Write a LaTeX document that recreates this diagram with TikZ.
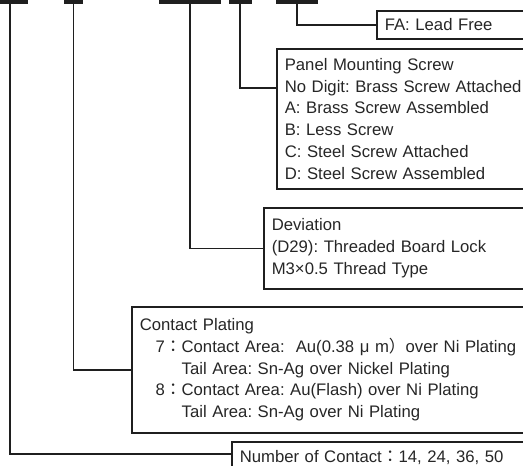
\documentclass[tikz,border=0pt]{standalone}
\usepackage{fontspec}
\setmainfont{Liberation Sans}
\newfontfamily\jpfont{Noto Sans CJK JP}
\newcommand\fwcolon{{\jpfont ：}}
\newcommand\fwparen{{\jpfont ）}}
\frenchspacing
\begin{document}
\begin{tikzpicture}[x=1pt,y=-1pt,
  conn/.style={line width=1.6pt, draw=black!88},
  bar/.style={fill=black!88, inner sep=0pt, minimum height=6pt, anchor=south},
  box/.style={draw=black!88, line width=1.6pt, anchor=north west, align=left,
    inner xsep=8pt, inner ysep=0pt, font=\fontsize{16.7}{21.8}\selectfont\frenchspacing, text=black!85},
]
\useasboundingbox (0,0) rectangle (523,466);
\clip (0,0) rectangle (523,466);
% part-number bars
\node[bar, minimum width=36pt] (b1) at (10,4) {};
\node[bar, minimum width=19pt] (b2) at (73.5,4) {};
\node[bar, minimum width=62pt] (b3) at (190,4) {};
\node[bar, minimum width=23pt] (b4) at (240,4) {};
\node[bar, minimum width=42pt] (b5) at (297,4) {};
% boxes
\node[box, text width=200pt, minimum height=28pt] (fa) at (376,10) {FA: Lead Free};
\node[box, text width=280pt, minimum height=140pt] (panel) at (276,48)
  {Panel Mounting Screw\\No Digit: Brass Screw Attached\\A: Brass Screw Assembled\\B: Less Screw\\C: Steel Screw Attached\\D: Steel Screw Assembled};
\node[box, text width=280pt, minimum height=81pt] (dev) at (263,207)
  {Deviation\\(D29): Threaded Board Lock\\M3×0.5 Thread Type};
\node[box, text width=420pt, minimum height=126pt] (cp) at (131,306)
  {Contact Plating\\
   \hspace*{0.95em}7\fwcolon Contact Area:\ \ Au(0.38 μ m\fwparen over Ni Plating\\
   \hspace*{0.95em}\phantom{7\fwcolon}Tail Area: Sn-Ag over Nickel Plating\\
   \hspace*{0.95em}8\fwcolon Contact Area: Au(Flash) over Ni Plating\\
   \hspace*{0.95em}\phantom{8\fwcolon}Tail Area: Sn-Ag over Ni Plating};
\node[box, text width=320pt, minimum height=32pt] (num) at (231,441)
  {Number of Contact\fwcolon 14, 24, 36, 50};
% connectors
\draw[conn] (b5.south) |- (fa.west);
\draw[conn] (b4.south) |- ([yshift=-40pt]panel.north west);
\draw[conn] (b3.south) |- (dev.west);
\draw[conn] (b2.south) |- (cp.west);
\draw[conn] (b1.south) |- ([yshift=-13pt]num.north west);
\end{tikzpicture}
\end{document}
